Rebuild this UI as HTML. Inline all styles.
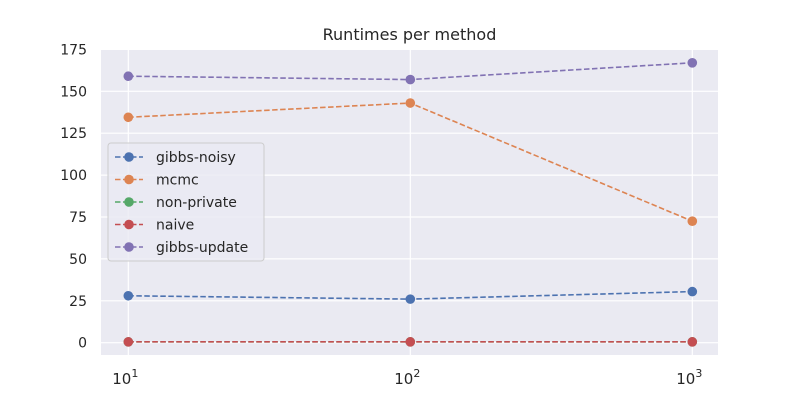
<!DOCTYPE html>
<html><head><meta charset="utf-8"><style>
body{margin:0;background:#fff;}
svg text{font-family:"DejaVu Sans","Liberation Sans",sans-serif;fill:#262626;}
</style></head><body>
<svg id="chart" width="800" height="400" xmlns="http://www.w3.org/2000/svg">
<rect x="101" y="50" width="617" height="305" fill="#eaeaf2"/>
<g id="grid"></g>
<g id="series"></g>
<text x="409.5" y="40" text-anchor="middle" font-size="16">Runtimes per method</text>
<g id="legend"></g>
</svg>
<script>
const xValues=[10,100,1000];
const xTickLabels=["1","2","3"];
const yTicks=[0,25,50,75,100,125,150,175];
const seriesNames=["gibbs-noisy","mcmc","non-private","naive","gibbs-update"];
const gibbsNoisy=[28,26,30.5];
const mcmc=[134.5,143,72.5];
const nonPrivate=[0.5,0.5,0.5];
const naive=[0.5,0.5,0.5];
const gibbsUpdate=[159,157,167];
const colors=["#4c72b0","#dd8452","#55a868","#c44e52","#8172b3"];
const NS="http://www.w3.org/2000/svg";
const xs=v=>128.3+(Math.log10(v)-1)*282;
const ys=v=>342.7-v*41.9/25;
function mk(tag,attrs,parent){const e=document.createElementNS(NS,tag);for(const k in attrs)e.setAttribute(k,attrs[k]);parent.appendChild(e);return e;}
const grid=document.getElementById('grid');
yTicks.forEach(t=>{
 const l=mk('line',{x1:101,x2:718,y1:ys(t),y2:ys(t),stroke:'#fff','stroke-width':1.2},grid);
 
 
 const tx=mk('text',{x:87,y:ys(t)+5,'text-anchor':'end','font-size':14},grid);tx.textContent=t;
 
 
});
xValues.forEach((v,i)=>{
 const l=mk('line',{x1:xs(v),x2:xs(v),y1:50,y2:355,stroke:'#fff','stroke-width':1.2},grid);
 
 
 const tx=mk('text',{x:xs(v)-3,y:384,'text-anchor':'middle','font-size':15},grid);
 
 
 tx.textContent='10';
 const sp=mk('tspan',{dy:-7,'font-size':11},tx);sp.textContent=xTickLabels[i];
});
const data=[gibbsNoisy,mcmc,nonPrivate,naive,gibbsUpdate];
const sg=document.getElementById('series');
data.forEach((arr,si)=>{
 const g=mk('g',{},sg);
 
 
 mk('polyline',{points:arr.map((v,i)=>xs(xValues[i])+','+ys(v)).join(' '),fill:'none',stroke:colors[si],'stroke-width':1.6,'stroke-dasharray':'5.5,2.5'},g);
 arr.forEach((v,i)=>{
  const c=mk('circle',{cx:xs(xValues[i]),cy:ys(v),r:4.8,fill:colors[si]},g);
  
  
 });
});
const lg=document.getElementById('legend');


mk('rect',{x:108,y:143,width:156,height:118,rx:3,fill:'#eaeaf2',stroke:'#cccccc','stroke-width':1,'fill-opacity':0.8},lg);
seriesNames.forEach((n,i)=>{
 const y=157+i*22.5;
 const e=mk('g',{},lg);
 
 
 mk('line',{x1:115,x2:143,y1:y,y2:y,stroke:colors[i],'stroke-width':1.6,'stroke-dasharray':'5.5,2.5'},e);
 mk('circle',{cx:129,cy:y,r:4.8,fill:colors[i]},e);
 const t=mk('text',{x:156,y:y+5,'font-size':14},e);t.textContent=n;
});
</script>
</body></html>
